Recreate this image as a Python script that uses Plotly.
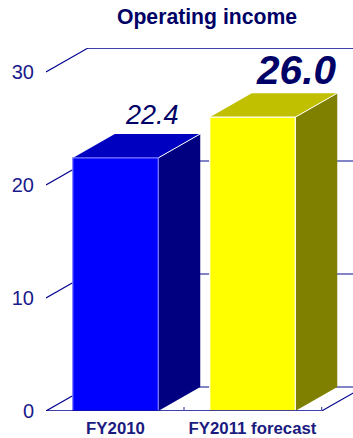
import plotly.graph_objects as go

categories = ["FY2010", "FY2011 forecast"]
values = [22.4, 26.0]
value_labels = ["22.4", "26.0"]
y_ticks = [0, 10, 20, 30]

front_colors = ["#0000ff", "#ffff00"]
top_colors = ["#0000c0", "#c0c000"]
side_colors = ["#000080", "#808000"]
edge_colors = ["#8080ff", "#ffffff"]

INK = "#000066"
AXIS = "#000090"
GRID = "#5a5ab4"
FONT = "Liberation Sans, Arial, sans-serif"

# 3D look: depth offset in data units, derived from the axis scale
PX_X = 137.0        # pixels per category step
PX_Y = 11.3         # pixels per value unit
DX = 42 / PX_X
DY = 24 / PX_Y
HALF = 42.75 / PX_X
X_LEFT = -69.5 / PX_X
X_RIGHT = 237.5 / PX_X
X_END = 1.505

fig = go.Figure()


def line(xs, ys, color, width=1.3):
    fig.add_trace(go.Scatter(x=xs, y=ys, mode="lines", hoverinfo="skip", showlegend=False,
                             line=dict(color=color, width=width), cliponaxis=False))


def poly(xs, ys, fill, edge=None):
    fig.add_trace(go.Scatter(x=xs, y=ys, mode="lines", fill="toself", fillcolor=fill,
                             hoverinfo="skip", showlegend=False,
                             line=dict(color=edge or fill, width=1.2 if edge else 0),
                             cliponaxis=False))


# back wall and left wall lines
for t in y_ticks:
    line([X_LEFT, X_LEFT + DX], [t, t + DY], AXIS, 1.1)
    line([X_LEFT + DX, X_RIGHT], [t + DY, t + DY], AXIS if t == 30 else GRID, 1.5)

# floor edges and ticks
line([X_END, X_END + DX], [0, DY], AXIS, 1.1)

# bars
for i, v in enumerate(values):
    l, r = i - HALF, i + HALF
    poly([r, r + DX, r + DX, r, r], [0, DY, v + DY, v, 0], side_colors[i])
    poly([l, l + DX, r + DX, r, l], [v, v + DY, v + DY, v, v], top_colors[i])
    line([r, r + DX], [v, v + DY], "#ffffff", 1.0)
    poly([l, r, r, l, l], [0, 0, v, v, 0], front_colors[i], edge_colors[i])

line([X_LEFT, X_END], [0, 0], AXIS, 1.5)
for t in [0.5, X_END]:
    line([t, t], [0, 0.35], GRID, 1.3)

# value labels
fig.add_annotation(x=0, y=values[0], xref="x", yref="y", text="<i>" + value_labels[0] + "</i>",
                   showarrow=False, xshift=36.5, yshift=43,
                   font=dict(family=FONT, size=27, color=INK), xanchor="center", yanchor="middle")
fig.add_annotation(x=1, y=values[1], xref="x", yref="y", text="<b><i>" + value_labels[1] + "</i></b>",
                   showarrow=False, xshift=43.5, yshift=47,
                   font=dict(family=FONT, size=40.6, color=INK), xanchor="center", yanchor="middle")

fig.update_layout(
    width=353, height=438, autosize=False,
    margin=dict(l=46, r=0, t=48, b=27),
    paper_bgcolor="#ffffff", plot_bgcolor="#ffffff",
    showlegend=False,
    title=dict(text="<b>Operating income</b>", x=207 / 353, xanchor="center",
               y=1 - 17 / 438, yanchor="middle",
               font=dict(family=FONT, size=21.2, color=INK)),
    xaxis=dict(range=[X_LEFT, X_RIGHT], tickmode="array", tickvals=[0, 1],
               ticktext=["<b>%s</b>" % c for c in categories], showgrid=False, zeroline=False,
               showline=False, ticks="outside", ticklen=2, tickcolor="rgba(0,0,0,0)",
               tickfont=dict(family=FONT, size=16.8, color="#1a1a80")),
    yaxis=dict(range=[0, 30 + DY], tickmode="array", tickvals=y_ticks, showgrid=False,
               zeroline=False, showline=False, ticks="outside", ticklen=7,
               tickcolor="rgba(0,0,0,0)",
               tickfont=dict(family=FONT, size=20, color="#1a1a8c")),
)

fig.write_html("out.html", config={"displayModeBar": False, "responsive": False},
               post_script="document.body.style.margin='0';document.body.style.overflow='hidden';")
